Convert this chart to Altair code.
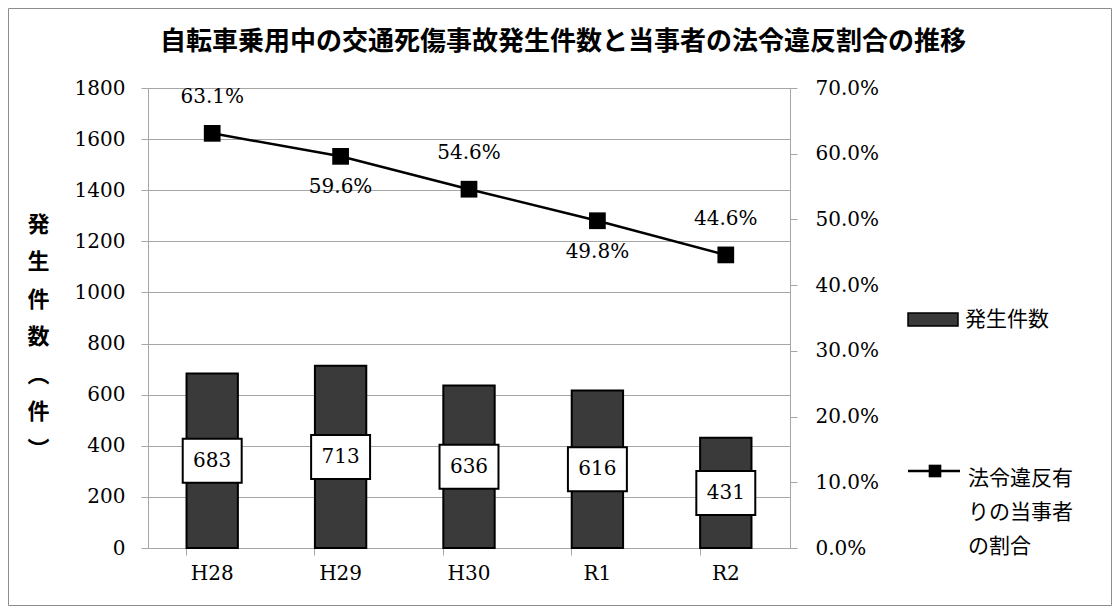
import altair as alt
import pandas as pd

# ---- data ----
years = ["H28", "H29", "H30", "R1", "R2"]
counts = [683, 713, 636, 616, 431]
rates = [63.1, 59.6, 54.6, 49.8, 44.6]
label_side = ["above", "below", "above", "below", "above"]

title_text = "自転車乗用中の交通死傷事故発生件数と当事者の法令違反割合の推移"
y_title_chars = ["発", "生", "件", "数", "︵", "件", "︶"]
legend_bar = "発生件数"
legend_line = ["法令違反有", "りの当事者", "の割合"]
left_ticks = [0, 200, 400, 600, 800, 1000, 1200, 1400, 1600, 1800]
right_ticks = [0, 0.1, 0.2, 0.3, 0.4, 0.5, 0.6, 0.7]

df = pd.DataFrame({"year": years, "count": counts, "rate": rates, "side": label_side})

SERIF = "DejaVu Serif"
CJK = "Noto Sans CJK JP"
GRAY = "#a6a6a6"

base = alt.Chart(df)

xaxis = alt.Axis(
    title=None, labelAngle=0, bandPosition=0, labelPadding=8, grid=False,
    labelFont=SERIF, labelFontSize=20, labelColor="black",
    domainColor=GRAY, tickColor=GRAY, tickSize=7,
)
xscale = alt.Scale(paddingInner=0.6, paddingOuter=0.3)


def xenc():
    return alt.X("year:N", sort=years, scale=xscale, axis=xaxis)


yscale_l = alt.Scale(domain=[0, 1800])
yaxis_l = alt.Axis(
    values=left_ticks, grid=True, gridColor=GRAY, format="d",
    labelFont=SERIF, labelFontSize=20, labelColor="black", labelPadding=16,
    domainColor=GRAY, tickColor=GRAY, tickSize=7,
    title=y_title_chars, titleAngle=0, titleX=-110, titleY=126,
    titleAlign="center", titleBaseline="top", titleFont=CJK,
    titleFontSize=22, titleFontWeight="bold", titleLineHeight=37.5,
    titleColor="black",
)


def yL(field):
    return alt.Y(field, scale=yscale_l, axis=yaxis_l, title=y_title_chars)


bars = base.mark_bar(fill="#3a3a3a", stroke="black", strokeWidth=2).encode(x=xenc(), y=yL("count:Q"))

box_path = "M-1.34,-1H1.34V1H-1.34Z"
boxes = base.transform_calculate(half="datum.count/2").mark_point(
    shape=box_path, size=1936, filled=True, fill="white", stroke="black",
    strokeWidth=2, opacity=1,
).encode(x=xenc(), y=yL("half:Q"))

box_text = base.transform_calculate(half="datum.count/2").mark_text(
    font=SERIF, fontSize=20, color="black", baseline="middle", align="center",
).encode(x=xenc(), y=yL("half:Q"), text=alt.Text("count:Q", format="d"))

bar_group = alt.layer(bars, boxes, box_text)

yscale_r = alt.Scale(domain=[0, 0.7])
yaxis_r = alt.Axis(
    orient="right", values=right_ticks, format=".1%", grid=False, title=None,
    labelFont=SERIF, labelFontSize=20, labelColor="black", labelPadding=18,
    domainColor=GRAY, tickColor=GRAY, tickSize=7,
)


def yR():
    return alt.Y("r:Q", scale=yscale_r, axis=yaxis_r, title=None)


lbase = base.transform_calculate(r="datum.rate/100", lbl="format(datum.rate, '.1f') + '%'")
line = lbase.mark_line(color="black", strokeWidth=2.5).encode(x=xenc(), y=yR())
pts = lbase.mark_point(shape="square", size=280, filled=True, color="black", opacity=1).encode(
    x=xenc(), y=yR()
)
lab_above = lbase.transform_filter("datum.side == 'above'").mark_text(
    font=SERIF, fontSize=20, color="black", dy=-36, baseline="middle"
).encode(x=xenc(), y=yR(), text="lbl:N")
lab_below = lbase.transform_filter("datum.side == 'below'").mark_text(
    font=SERIF, fontSize=20, color="black", dy=31, baseline="middle"
).encode(x=xenc(), y=yR(), text="lbl:N")

line_group = alt.layer(line, pts, lab_above, lab_below)

one = alt.Chart(pd.DataFrame({"k": [0]}))

title_mark = one.mark_text(font=CJK, fontSize=26, fontWeight="bold", color="black",
                           align="center", baseline="middle").encode(
    x=alt.value(415), y=alt.value(-46), text=alt.value(title_text))

leg_swatch = one.mark_rect(fill="#3a3a3a", stroke="black", strokeWidth=1.5).encode(
    x=alt.value(760), x2=alt.value(810), y=alt.value(225), y2=alt.value(238))
leg_bar_text = one.mark_text(font=CJK, fontSize=21, color="black", align="left", baseline="middle").encode(
    x=alt.value(817), y=alt.value(232), text=alt.value(legend_bar))
leg_rule = one.mark_rule(color="black", strokeWidth=2.5).encode(
    x=alt.value(760), x2=alt.value(812), y=alt.value(383))
leg_sq = one.mark_point(shape="square", size=160, filled=True, color="black", opacity=1).encode(
    x=alt.value(787), y=alt.value(383))
leg_line_text = one.mark_text(font=CJK, fontSize=21, color="black", align="left", baseline="middle",
                              lineHeight=34).encode(
    x=alt.value(820), y=alt.value(391), text=alt.value(legend_line))

border = one.mark_rect(fillOpacity=0, stroke="#8c8c8c", strokeWidth=1).encode(
    x=alt.value(-139.5), x2=alt.value(963.5), y=alt.value(-79.5), y2=alt.value(517.5))

chart = alt.layer(
    bar_group, line_group, title_mark, leg_swatch, leg_bar_text, leg_rule, leg_sq, leg_line_text, border
).resolve_scale(y="independent").properties(
    width=642, height=460, autosize="none",
    padding={"left": 140, "top": 80, "right": 322, "bottom": 58},
).configure_view(stroke="transparent").configure(background="white")

chart.save("out.html", embed_options={"renderer": "svg", "actions": False})
